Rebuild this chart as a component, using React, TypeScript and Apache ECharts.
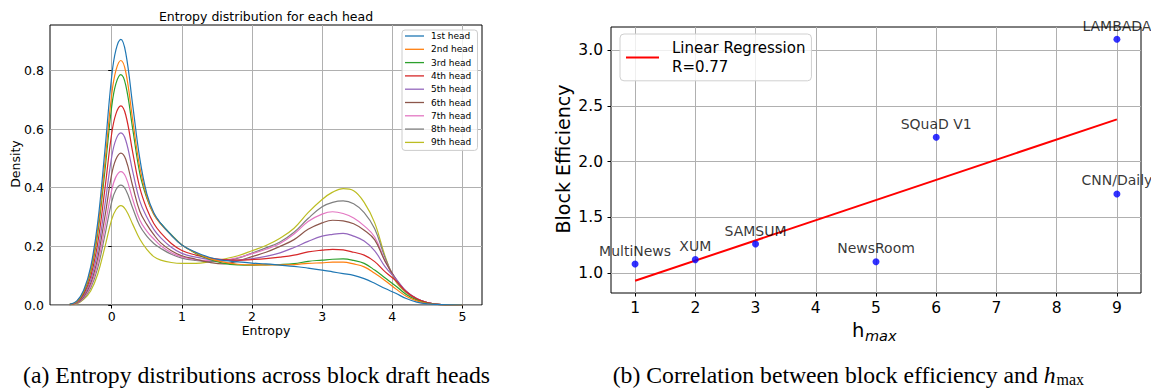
import { useEffect, useRef } from 'react';
import * as echarts from 'echarts';

// ---------- Left panel: entropy KDE per head ----------
const entropyX = [-0.6, -0.5, -0.4, -0.3, -0.2, -0.1, 0, 0.06, 0.13, 0.2, 0.3, 0.4, 0.5, 0.6, 0.7, 0.85, 1.0, 1.2, 1.4, 1.6, 1.8, 2.0, 2.2, 2.4, 2.6, 2.8, 3.0, 3.15, 3.3, 3.45, 3.6, 3.75, 3.9, 4.05, 4.2, 4.35, 4.5, 4.7, 5.0];

const head1 = [0.002, 0.013, 0.05, 0.13, 0.28, 0.52, 0.78, 0.87, 0.906, 0.86, 0.68, 0.5, 0.38, 0.315, 0.278, 0.238, 0.205, 0.18, 0.162, 0.152, 0.147, 0.143, 0.14, 0.136, 0.132, 0.126, 0.119, 0.113, 0.107, 0.101, 0.09, 0.074, 0.056, 0.04, 0.022, 0.01, 0.004, 0.001, 0];
const head2 = [0.002, 0.011, 0.046, 0.119, 0.258, 0.479, 0.718, 0.8, 0.834, 0.795, 0.63, 0.47, 0.37, 0.31, 0.276, 0.238, 0.205, 0.178, 0.158, 0.146, 0.139, 0.137, 0.137, 0.137, 0.138, 0.142, 0.144, 0.146, 0.146, 0.14, 0.13, 0.108, 0.083, 0.055, 0.03, 0.014, 0.005, 0.001, 0];
const head3 = [0.002, 0.01, 0.043, 0.112, 0.243, 0.451, 0.677, 0.755, 0.786, 0.75, 0.6, 0.45, 0.365, 0.31, 0.278, 0.24, 0.205, 0.176, 0.155, 0.142, 0.137, 0.136, 0.137, 0.138, 0.141, 0.149, 0.153, 0.156, 0.157, 0.152, 0.142, 0.119, 0.092, 0.065, 0.036, 0.017, 0.006, 0.001, 0];
const head4 = [0.001, 0.009, 0.037, 0.097, 0.21, 0.39, 0.585, 0.652, 0.679, 0.648, 0.52, 0.4, 0.328, 0.278, 0.246, 0.21, 0.186, 0.17, 0.16, 0.155, 0.153, 0.155, 0.158, 0.163, 0.17, 0.181, 0.187, 0.19, 0.188, 0.18, 0.17, 0.148, 0.113, 0.083, 0.045, 0.021, 0.008, 0.001, 0];
const head5 = [0.001, 0.008, 0.032, 0.084, 0.181, 0.337, 0.505, 0.564, 0.587, 0.562, 0.455, 0.355, 0.3, 0.258, 0.229, 0.197, 0.176, 0.163, 0.155, 0.152, 0.153, 0.158, 0.166, 0.178, 0.196, 0.217, 0.235, 0.241, 0.244, 0.235, 0.218, 0.185, 0.13, 0.09, 0.047, 0.022, 0.008, 0.001, 0];
const head6 = [0.001, 0.007, 0.028, 0.074, 0.16, 0.297, 0.446, 0.497, 0.518, 0.497, 0.405, 0.32, 0.275, 0.24, 0.212, 0.185, 0.168, 0.156, 0.145, 0.14, 0.15, 0.165, 0.18, 0.2, 0.223, 0.258, 0.28, 0.289, 0.287, 0.277, 0.255, 0.222, 0.148, 0.09, 0.046, 0.021, 0.008, 0.001, 0];
const head7 = [0.001, 0.006, 0.025, 0.065, 0.141, 0.261, 0.392, 0.437, 0.455, 0.437, 0.36, 0.29, 0.252, 0.225, 0.202, 0.178, 0.164, 0.155, 0.152, 0.153, 0.162, 0.175, 0.19, 0.21, 0.242, 0.285, 0.31, 0.318, 0.312, 0.297, 0.27, 0.232, 0.15, 0.088, 0.045, 0.021, 0.008, 0.001, 0];
const head8 = [0.001, 0.005, 0.022, 0.058, 0.126, 0.235, 0.352, 0.393, 0.409, 0.393, 0.33, 0.27, 0.235, 0.21, 0.193, 0.173, 0.16, 0.152, 0.148, 0.15, 0.16, 0.177, 0.195, 0.215, 0.248, 0.295, 0.335, 0.35, 0.355, 0.345, 0.315, 0.26, 0.16, 0.085, 0.044, 0.02, 0.007, 0.001, 0];
const head9 = [0.001, 0.004, 0.019, 0.048, 0.105, 0.195, 0.292, 0.325, 0.339, 0.325, 0.275, 0.225, 0.19, 0.165, 0.153, 0.145, 0.142, 0.142, 0.148, 0.157, 0.168, 0.185, 0.203, 0.228, 0.262, 0.315, 0.36, 0.385, 0.397, 0.39, 0.35, 0.28, 0.165, 0.08, 0.042, 0.02, 0.007, 0.001, 0];

const headNames = ['1st head', '2nd head', '3rd head', '4th head', '5th head', '6th head', '7th head', '8th head', '9th head'];
const headSeries = [head1, head2, head3, head4, head5, head6, head7, head8, head9];
const headColors = ['#1f77b4', '#ff7f0e', '#2ca02c', '#d62728', '#9467bd', '#8c564b', '#e377c2', '#7f7f7f', '#bcbd22'];

const entropyTicks = [0, 1, 2, 3, 4, 5];
const densityTicks = [0, 0.2, 0.4, 0.6, 0.8];

// ---------- Right panel: block efficiency vs h_max ----------
const datasetNames = ['MultiNews', 'XUM', 'SAMSUM', 'NewsRoom', 'SQuaD V1', 'CNN/Daily', 'LAMBADA'];
const hMax = [1, 2, 3, 5, 6, 9, 9];
const blockEfficiency = [1.08, 1.12, 1.26, 1.10, 2.22, 1.71, 3.10];
const regressionX = [1, 9];
const regressionY = [0.93, 2.38];
const hTicks = [1, 2, 3, 4, 5, 6, 7, 8, 9];
const effTicks = [1.0, 1.5, 2.0, 2.5, 3.0];

const SANS = 'DejaVu Sans';
const SERIF = 'Liberation Serif';

function measure(text: string, font: string): number {
  const c = document.createElement('canvas');
  const ctx = c.getContext('2d');
  if (!ctx) return text.length * 10;
  ctx.font = font;
  return ctx.measureText(text).width;
}

export default function App() {
  const ref = useRef<HTMLDivElement>(null);

  useEffect(() => {
    if (!ref.current) return;
    const chart = echarts.init(ref.current, undefined, { renderer: 'svg' });

    const gridLine = { show: true, lineStyle: { color: '#b0b0b0', width: 1 } };
    const tick = { show: true, inside: false, length: 3.5, lineStyle: { color: '#000', width: 1 } };

    const capA = '(a) Entropy distributions across block draft heads';
    const capB = '(b) Correlation between block efficiency and ';
    const capSize = 23.7;
    const capBX = 612.7;
    const capBW = measure(capB, `${capSize}px "${SERIF}"`);
    const hW = measure('h', `italic ${capSize}px "${SERIF}"`);

    const option: any = {
      animation: false,
      backgroundColor: '#ffffff',
      grid: [
        { left: 50, top: 25, width: 432, height: 280, show: true, borderColor: '#000', borderWidth: 1, backgroundColor: 'transparent' },
        { left: 611, top: 27, width: 530, height: 266, show: true, borderColor: '#000', borderWidth: 1, backgroundColor: 'transparent' },
      ],
      xAxis: [
        {
          gridIndex: 0, type: 'value', min: -0.88, max: 5.28, minInterval: 1, maxInterval: 1,
          axisLine: { show: false }, axisTick: { ...tick, customValues: entropyTicks },
          axisLabel: { color: '#000', fontSize: 12.5, fontFamily: SANS, margin: 5, customValues: entropyTicks },
          splitLine: gridLine,
        },
        {
          gridIndex: 1, type: 'value', min: 0.6, max: 9.4, minInterval: 1, maxInterval: 1,
          axisLine: { show: false }, axisTick: { ...tick, customValues: hTicks },
          axisLabel: { color: '#000', fontSize: 15.5, fontFamily: SANS, margin: 7, customValues: hTicks },
          splitLine: gridLine,
        },
      ],
      yAxis: [
        {
          gridIndex: 0, type: 'value', min: 0, max: 0.955, minInterval: 0.2, maxInterval: 0.2,
          axisLine: { show: false }, axisTick: { ...tick, customValues: densityTicks },
          axisLabel: { color: '#000', fontSize: 12.5, fontFamily: SANS, margin: 6, customValues: densityTicks, formatter: (v: number) => v.toFixed(1) },
          splitLine: gridLine,
        },
        {
          gridIndex: 1, type: 'value', min: 0.82, max: 3.21, minInterval: 0.5, maxInterval: 0.5,
          axisLine: { show: false }, axisTick: { ...tick, customValues: effTicks },
          axisLabel: { color: '#000', fontSize: 15.5, fontFamily: SANS, margin: 8, customValues: effTicks, formatter: (v: number) => v.toFixed(1) },
          splitLine: gridLine,
        },
      ],
      legend: [
        {
          data: headNames, orient: 'vertical', left: 402, top: 30, icon: 'rect',
          itemWidth: 19, itemHeight: 1.3, itemGap: 3.3, padding: [1, 4, 3, 3],
          borderColor: '#cccccc', borderWidth: 1, borderRadius: 3, backgroundColor: 'rgba(255,255,255,0.8)',
          textStyle: { fontSize: 9, fontFamily: SANS, color: '#000', lineHeight: 10, padding: [0, 0, 0, 2] },
        },
        {
          data: ['Linear Regression'], orient: 'vertical', left: 620, top: 34, icon: 'rect',
          itemWidth: 33, itemHeight: 2, padding: [5, 6, 5, 6],
          borderColor: '#d0d0d0', borderWidth: 1, borderRadius: 4, backgroundColor: 'rgba(255,255,255,0.8)',
          formatter: () => 'Linear Regression\nR=0.77',
          textStyle: { fontSize: 15, fontFamily: SANS, color: '#000', lineHeight: 18.4, padding: [0, 0, 0, 8] },
        },
      ],
      series: [
        ...headSeries.map((vals, i) => ({
          name: headNames[i], type: 'line', xAxisIndex: 0, yAxisIndex: 0,
          data: entropyX.map((x, j) => [x, vals[j]]),
          smooth: 0.4, symbol: 'none', z: 3 + (8 - i) * 0.01,
          lineStyle: { color: headColors[i], width: 1.2 }, itemStyle: { color: headColors[i] },
        })),
        {
          name: 'points', type: 'scatter', xAxisIndex: 1, yAxisIndex: 1,
          data: hMax.map((x, i) => [x, blockEfficiency[i], datasetNames[i]]),
          symbolSize: 7, itemStyle: { color: '#0000ff' }, z: 4,
          label: {
            show: true, position: 'top', distance: 3, color: '#000', fontSize: 14, fontFamily: SANS,
            formatter: (p: any) => p.data[2],
          },
        },
        {
          name: 'Linear Regression', type: 'line', xAxisIndex: 1, yAxisIndex: 1,
          data: regressionX.map((x, i) => [x, regressionY[i]]),
          symbol: 'none', z: 3,
          lineStyle: { color: '#ff0000', width: 2 }, itemStyle: { color: '#ff0000' },
        },
      ],
      graphic: [
        { type: 'text', x: 266, y: 16, style: { text: 'Entropy distribution for each head', fontSize: 12.5, fontFamily: SANS, fill: '#000', align: 'center', verticalAlign: 'middle' } },
        { type: 'text', x: 15, y: 164, rotation: Math.PI / 2, style: { text: 'Density', fontSize: 12.5, fontFamily: SANS, fill: '#000', align: 'center', verticalAlign: 'middle' } },
        { type: 'text', x: 266, y: 330, style: { text: 'Entropy', fontSize: 12.5, fontFamily: SANS, fill: '#000', align: 'center', verticalAlign: 'middle' } },
        { type: 'text', x: 563, y: 159, rotation: Math.PI / 2, style: { text: 'Block Efficiency', fontSize: 19, fontFamily: SANS, fill: '#000', align: 'center', verticalAlign: 'middle' } },
        { type: 'text', x: 852, y: 330, style: { text: 'h', fontSize: 19.5, fontFamily: SANS, fill: '#000', align: 'left', verticalAlign: 'middle' } },
        { type: 'text', x: 865, y: 336, style: { text: 'max', fontSize: 14.5, fontStyle: 'italic', fontFamily: SANS, fill: '#000', align: 'left', verticalAlign: 'middle' } },
        { type: 'text', x: 23, y: 375, style: { text: capA, fontSize: capSize, fontFamily: SERIF, fill: '#000', align: 'left', verticalAlign: 'middle' } },
        { type: 'text', x: capBX, y: 375, style: { text: capB, fontSize: capSize, fontFamily: SERIF, fill: '#000', align: 'left', verticalAlign: 'middle' } },
        { type: 'text', x: capBX + capBW, y: 375, style: { text: 'h', fontSize: capSize, fontStyle: 'italic', fontFamily: SERIF, fill: '#000', align: 'left', verticalAlign: 'middle' } },
        { type: 'text', x: capBX + capBW + hW + 1, y: 379, style: { text: 'max', fontSize: 16, fontFamily: SERIF, fill: '#000', align: 'left', verticalAlign: 'middle' } },
      ],
    };

    chart.setOption(option);
    return () => chart.dispose();
  }, []);

  return (
    <div
      ref={ref}
      style={{ position: 'absolute', left: 0, top: 0, width: 1151, height: 388, background: '#fff' }}
    />
  );
}
